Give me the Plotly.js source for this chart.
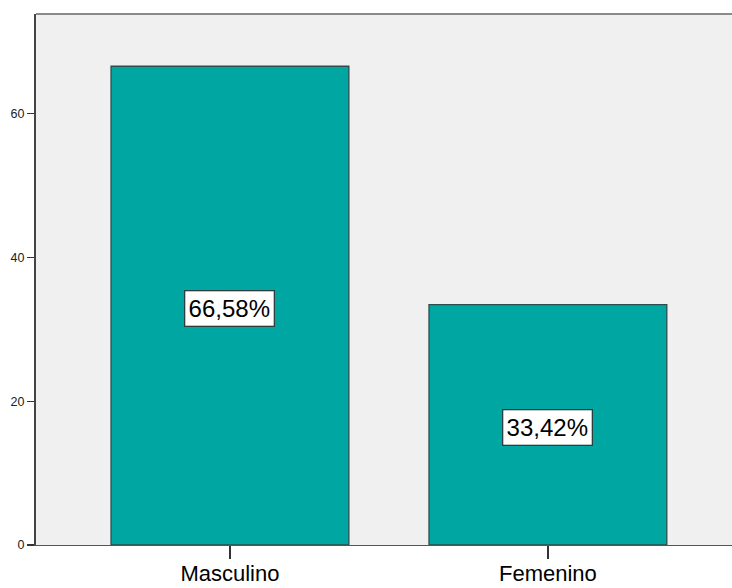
<!DOCTYPE html>
<html>
<head>
<meta charset="utf-8">
<script src="https://cdn.plot.ly/plotly-3.0.1.min.js"></script>
<style>html,body{margin:0;padding:0;background:#fff;}#chart{width:732px;height:588px;}</style>
</head>
<body>
<div id="chart"></div>
<script>
const categories = ["Masculino", "Femenino"];
const values = [66.58, 33.42];
const labels = ["66,58%", "33,42%"];
const yTicks = [0, 20, 40, 60];

const trace = {
  type: "bar",
  x: categories,
  y: values,
  width: 0.748,
  marker: {color: "#00a6a2", line: {color: "#2e4d4d", width: 1.3}},
  hoverinfo: "none"
};

const annotations = categories.map((c, i) => ({
  x: c, y: values[i] / 2, xref: "x", yref: "y", yshift: -3,
  text: labels[i], showarrow: false,
  font: {family: "Arial, Liberation Sans, sans-serif", size: 24, color: "#000"},
  bgcolor: "#ffffff", bordercolor: "#2b3f3f", borderwidth: 1.3, borderpad: 3,
  width: 82, height: 28
}));

const layout = {
  width: 732, height: 588,
  margin: {l: 36, r: 0, t: 14, b: 43},
  paper_bgcolor: "#ffffff",
  plot_bgcolor: "#f0f0f0",
  showlegend: false,
  bargap: 0,
  xaxis: {
    type: "category",
    range: [-0.61, 1.579],
    showgrid: false, zeroline: false,
    showline: true, linecolor: "#555", linewidth: 1.3,
    ticks: "outside", ticklen: 13, tickwidth: 1.3, tickcolor: "#333",
    tickfont: {family: "Arial, Liberation Sans, sans-serif", size: 22, color: "#000"},
    ticklabelstandoff: -5,
    fixedrange: true
  },
  yaxis: {
    range: [0, 73.85],
    tickvals: yTicks,
    ticktext: yTicks.map(String),
    showgrid: false, zeroline: false,
    showline: true, linecolor: "#444", linewidth: 2,
    ticks: "outside", ticklen: 7, tickwidth: 1.3, tickcolor: "#333",
    tickfont: {family: "Arial, Liberation Sans, sans-serif", size: 12.5, color: "#222"},
    ticklabelstandoff: 0,
    fixedrange: true
  },
  shapes: [{
    type: "line", xref: "paper", yref: "paper",
    x0: 0, x1: 1, y0: 1, y1: 1,
    line: {color: "#8a8a8a", width: 2}
  }],
  annotations: annotations
};

Plotly.newPlot("chart", [trace], layout, {displayModeBar: false, staticPlot: true});
</script>
</body>
</html>
